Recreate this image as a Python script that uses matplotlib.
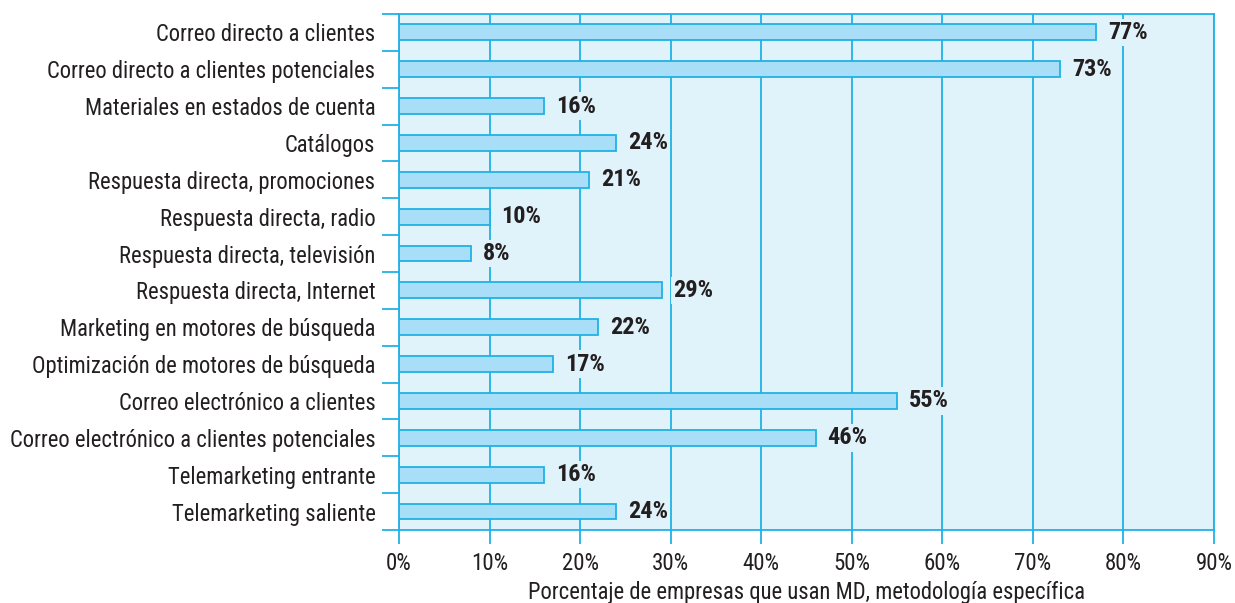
import numpy as np
import matplotlib.pyplot as plt
from matplotlib import font_manager

categorias = ["Correo directo a clientes",
              "Correo directo a clientes potenciales",
              "Materiales en estados de cuenta",
              "Catálogos",
              "Respuesta directa, promociones",
              "Respuesta directa, radio",
              "Respuesta directa, televisión",
              "Respuesta directa, Internet",
              "Marketing en motores de búsqueda",
              "Optimización de motores de búsqueda",
              "Correo electrónico a clientes",
              "Correo electrónico a clientes potenciales",
              "Telemarketing entrante",
              "Telemarketing saliente"]
valores = [77, 73, 16, 24, 21, 10, 8, 29, 22, 17, 55, 46, 16, 24]
xticks = [0, 10, 20, 30, 40, 50, 60, 70, 80, 90]

# fuente condensada si existe
nombres = {f.name for f in font_manager.fontManager.ttflist}
opciones = ['Roboto Condensed', 'Archivo Narrow', 'Liberation Sans Narrow', 'Liberation Sans']
fam = [f for f in opciones if f in nombres][0]
plt.rcParams['font.family'] = [fam, 'DejaVu Sans']

azul = '#1fb2e6'
fondo = '#e0f2fa'
barra = '#a9def8'
texto = '#231f20'

fig = plt.figure(figsize=(12.35, 6.03), dpi=100)
ax = fig.add_axes([0.3231, 0.1211, 0.983 - 0.3231, 0.9768 - 0.1211])
ax.set_facecolor(fondo)

n = len(categorias)
y = np.arange(n)
ax.barh(y, valores, height=0.43, color=barra, edgecolor=azul, linewidth=1.3, zorder=3)

for yi, v in zip(y, valores):
    ax.text(v + 1.3, yi, f"{v}%", va='center', ha='left', fontsize=17.5, fontweight='bold',
            color=texto, zorder=4,
            bbox=dict(facecolor=fondo, edgecolor='none', pad=1.5))

ax.set_xlim(0, 90)
ax.set_ylim(n - 0.5, -0.5)
ax.set_xticks(xticks)
ax.set_xticklabels([f"{t}%" for t in xticks], fontsize=16.5, color=texto)
ax.set_yticks(y)
ax.set_yticklabels(categorias, fontsize=16.3, color=texto)
ax.set_yticks(np.arange(n + 1) - 0.5, minor=True)
ax.tick_params(axis='y', which='major', length=0, pad=17)
ax.tick_params(axis='y', which='minor', length=12, width=1.3, color=azul)
ax.tick_params(axis='x', length=10, width=1.3, color=azul, pad=6)

ax.grid(axis='x', color=azul, linewidth=1.3, zorder=1)
ax.set_axisbelow(True)
for s in ax.spines.values():
    s.set_color(azul)
    s.set_linewidth(1.3)

ax.set_xlabel("Porcentaje de empresas que usan MD, metodología específica",
              fontsize=16.3, color=texto, labelpad=4)

fig.savefig("out.png", dpi=100)
